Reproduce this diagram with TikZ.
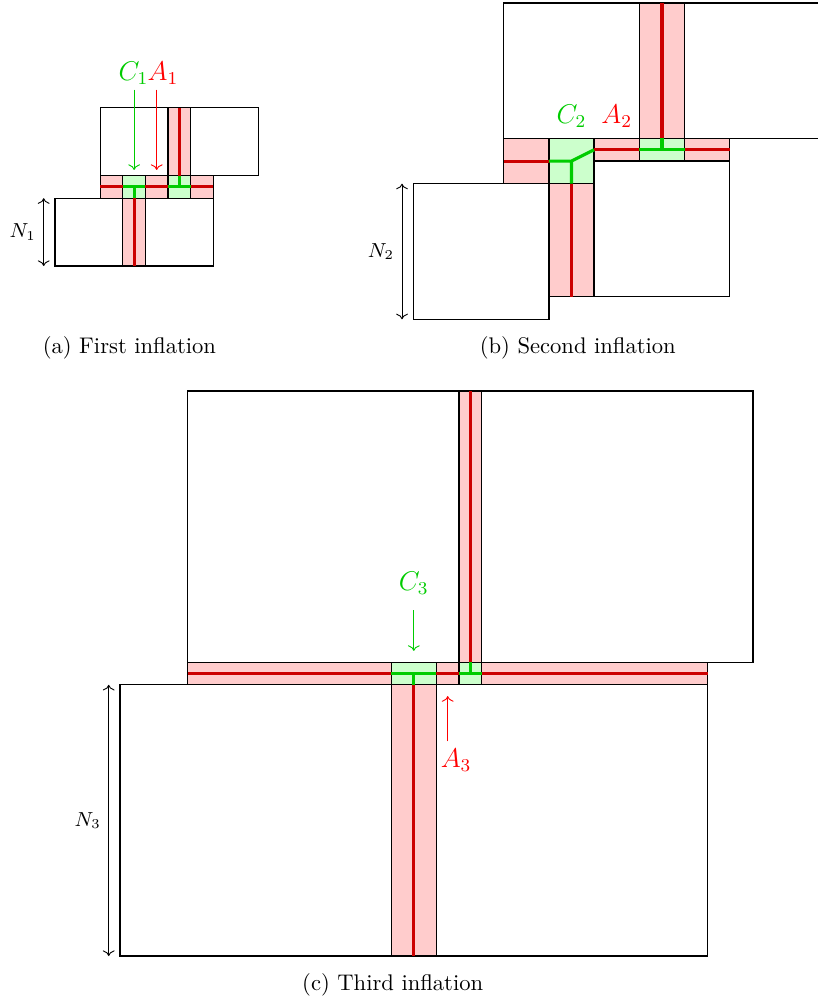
\documentclass[tikz,border=0pt]{standalone}
\usepackage{amsmath,amssymb}
\usepackage{tikz}
\usetikzlibrary{arrows.meta,positioning}
\usepackage{xcolor}

\begin{document}
\begin{tikzpicture}[
    x=10pt, y=10pt,
    box/.style={draw, semithick},
    redstrip/.style={draw, semithick, fill=red!20},
    greencell/.style={draw, semithick, fill=green!20},
    redline/.style={red!80!black, line width=1.4pt},
    greenline/.style={green!80!black, line width=1.4pt},
    sizearr/.style={<->},
    cmark/.style={->, green!80!black},
    amark/.style={->, red},
    clabel/.style={font=\large, text=green!80!black},
    alabel/.style={font=\large, text=red},
    nlabel/.style={font=\small, left},
    caption/.style={font=\normalsize}
]
    \useasboundingbox (0pt,0pt) rectangle (361.5pt,-443.8pt);

    % (a) First inflation
    \begin{scope}[shift={(24.34pt,-117.70pt)}]
        \draw[box] (0,0) rectangle (7,3);
        \draw[redstrip] (3,0) rectangle (4,3);
        \draw[redstrip] (2,3) rectangle (7,4);
        \draw[greencell] (3,3) rectangle (4,4);
        \draw[greencell] (5,3) rectangle (6,4);
        \draw[box] (2,4) rectangle (9,7);
        \draw[redstrip] (5,4) rectangle (6,7);

        \draw[redline] (2,3.5) -- (7,3.5);
        \draw[redline] (3.5,3) -- (3.5,0);
        \draw[redline] (5.5,4) -- (5.5,7);
        \draw[greenline] (3,3.5) -- (4,3.5) (3.5,3.5) -- (3.5,3);
        \draw[greenline] (5,3.5) -- (6,3.5) (5.5,3.5) -- (5.5,4);

        % labels
        \node[clabel] (c1) at (3.47,8.54) {$C_1$};
        \node[alabel] (a1) at (4.78,8.54) {$A_1$};
        \coordinate (c1tail) at (3.5,7.8);
        \coordinate (c1tip) at (3.5,4.25);
        \coordinate (a1tail) at (4.5,7.8);
        \coordinate (a1tip) at (4.5,4.25);
        \draw[cmark] (c1tail) -- (c1tip);
        \draw[amark] (a1tail) -- (a1tip);

        \coordinate (n1bot) at (-0.5,0);
        \coordinate (n1top) at (-0.5,3);
        \draw[sizearr] (n1bot) -- (n1top) node[midway, nlabel] {$N_1$};
    \end{scope}
    \node[caption] (capa) at (57.26pt,-153.98pt) {(a) First inflation};

    % (b) Second inflation
    \begin{scope}[shift={(182.88pt,-141.28pt)}, x=20pt, y=20pt]
        \draw[box] (0,0) rectangle (3,3);
        \draw[redstrip] (3,0.5) rectangle (4,3);
        \draw[box] (4,0.5) rectangle (7,3.5);
        \draw[redstrip] (2,3) rectangle (3,4);
        \draw[greencell] (3,3) rectangle (4,4);
        \draw[redstrip] (4,3.5) rectangle (7,4);
        \draw[greencell] (5,3.5) rectangle (6,4);
        \draw[box] (2,4) rectangle (9,7);
        \draw[redstrip] (5,4) rectangle (6,7);

        \draw[redline] (2,3.5) -- (3,3.5);
        \draw[redline] (3.5,3) -- (3.5,0.5);
        \draw[redline] (4,3.75) -- (7,3.75);
        \draw[redline] (5.5,4) -- (5.5,7);
        \draw[greenline] (3,3.5) -- (3.5,3.5) -- (4,3.75) (3.5,3.5) -- (3.5,3);
        \draw[greenline] (5,3.75) -- (6,3.75) (5.5,3.75) -- (5.5,4);

        % labels
        \node[clabel] (c2) at (3.5,4.5) {$C_2$};
        \node[alabel] (a2) at (4.5,4.5) {$A_2$};

        \coordinate (n2bot) at (-0.25,0);
        \coordinate (n2top) at (-0.25,3);
        \draw[sizearr] (n2bot) -- (n2top) node[midway, nlabel] {$N_2$};
    \end{scope}
    \node[caption] (capb) at (255.66pt,-153.98pt) {(b) Second inflation};

    % (c) Third inflation
    \begin{scope}[shift={(53.10pt,-423.01pt)}]
        \draw[box] (0,0) rectangle (26,12);
        \draw[redstrip] (12,0) rectangle (14,12);
        \draw[redstrip] (3,12) rectangle (26,13);
        \draw[greencell] (12,12) rectangle (14,13);
        \draw[greencell] (15,12) rectangle (16,13);
        \draw[box] (3,13) rectangle (28,25);
        \draw[redstrip] (15,13) rectangle (16,25);

        \draw[redline] (3,12.5) -- (26,12.5);
        \draw[redline] (13,12) -- (13,0);
        \draw[redline] (15.5,13) -- (15.5,25);
        \draw[greenline] (12,12.5) -- (14,12.5) (13,12.5) -- (13,12);
        \draw[greenline] (15,12.5) -- (16,12.5) (15.5,12.5) -- (15.5,13);

        % labels
        \node[clabel] (c3) at (13,16.5) {$C_3$};
        \node[alabel] (a3) at (14.87,8.67) {$A_3$};
        \coordinate (c3tail) at (13,15.3);
        \coordinate (c3tip) at (13,13.5);
        \coordinate (a3tail) at (14.5,9.5);
        \coordinate (a3tip) at (14.5,11.5);
        \draw[cmark] (c3tail) -- (c3tip);
        \draw[amark] (a3tail) -- (a3tip);

        \coordinate (n3bot) at (-0.5,0);
        \coordinate (n3top) at (-0.5,12);
        \draw[sizearr] (n3bot) -- (n3top) node[midway, nlabel] {$N_3$};
    \end{scope}
    \node[caption] (capc) at (173.76pt,-435.84pt) {(c) Third inflation};
\end{tikzpicture}
\end{document}
